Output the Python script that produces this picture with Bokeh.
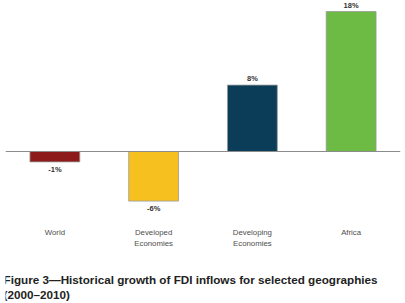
from bokeh.plotting import figure
from bokeh.models import ColumnDataSource, FactorRange, Span, Label
from bokeh.core.properties import value
from bokeh.embed import file_html
from bokeh.resources import INLINE

categories = ["World", "Developed Economies", "Developing Economies", "Africa"]
cat_labels = ["World", "Developed\nEconomies", "Developing\nEconomies", "Africa"]
growth = [-1.3, -6.2, 8.3, 17.5]
value_labels = ["-1%", "-6%", "8%", "18%"]
colors = ["#8E1B1B", "#F6C11F", "#0B3D58", "#6DBB45"]

FONT = "Liberation Sans"

src = ColumnDataSource(dict(cat=categories, val=growth, color=colors, lab=value_labels,
                            clab=cat_labels))

p = figure(width=405, height=303, x_range=FactorRange(*categories, range_padding=0),
           y_range=(-19, 18.875), output_backend="svg", toolbar_location=None,
           min_border_left=5, min_border_right=5, min_border_top=0, min_border_bottom=0)
p.axis.visible = False
p.grid.visible = False
p.outline_line_color = None
p.background_fill_color = "white"
p.x_range.range_padding = 0

p.vbar(x="cat", top="val", bottom=0, width=0.505, fill_color="color",
       line_color="#9a9a9a", line_width=0.8, source=src)

p.add_layout(Span(location=0, dimension="width", line_color="#8c8c8c", line_width=1))

pos = ColumnDataSource(dict(cat=categories[2:], val=growth[2:], lab=value_labels[2:]))
neg = ColumnDataSource(dict(cat=categories[:2], val=growth[:2], lab=value_labels[:2]))
p.text(x="cat", y="val", text="lab", source=pos, text_align="center", text_baseline="bottom",
       y_offset=-2, text_font=value(FONT), text_font_style="bold", text_font_size="7.5px",
       text_color="#333333")
p.text(x="cat", y="val", text="lab", source=neg, text_align="center", text_baseline="top",
       y_offset=3, text_font=value(FONT), text_font_style="bold", text_font_size="7.5px",
       text_color="#333333")

p.text(x="cat", y=-9.6, text="clab", source=src, text_align="center", text_baseline="top",
       text_font=value(FONT), text_font_size="7.8px", text_color="#4d4d4d",
       text_line_height=1.15)

cap1 = Label(x=-2, y=24, x_units="screen", y_units="screen", text_baseline="alphabetic",
             text="Figure 3\u2014Historical growth of FDI inflows for selected geographies",
             text_font=FONT, text_font_style="bold", text_font_size="11.7px", text_color="#222222")
cap2 = Label(x=-2, y=9, x_units="screen", y_units="screen", text_baseline="alphabetic",
             text="(2000\u20132010)",
             text_font=FONT, text_font_style="bold", text_font_size="11.7px", text_color="#222222")
p.add_layout(cap1)
p.add_layout(cap2)

open("out.html", "w").write(file_html(p, INLINE))
